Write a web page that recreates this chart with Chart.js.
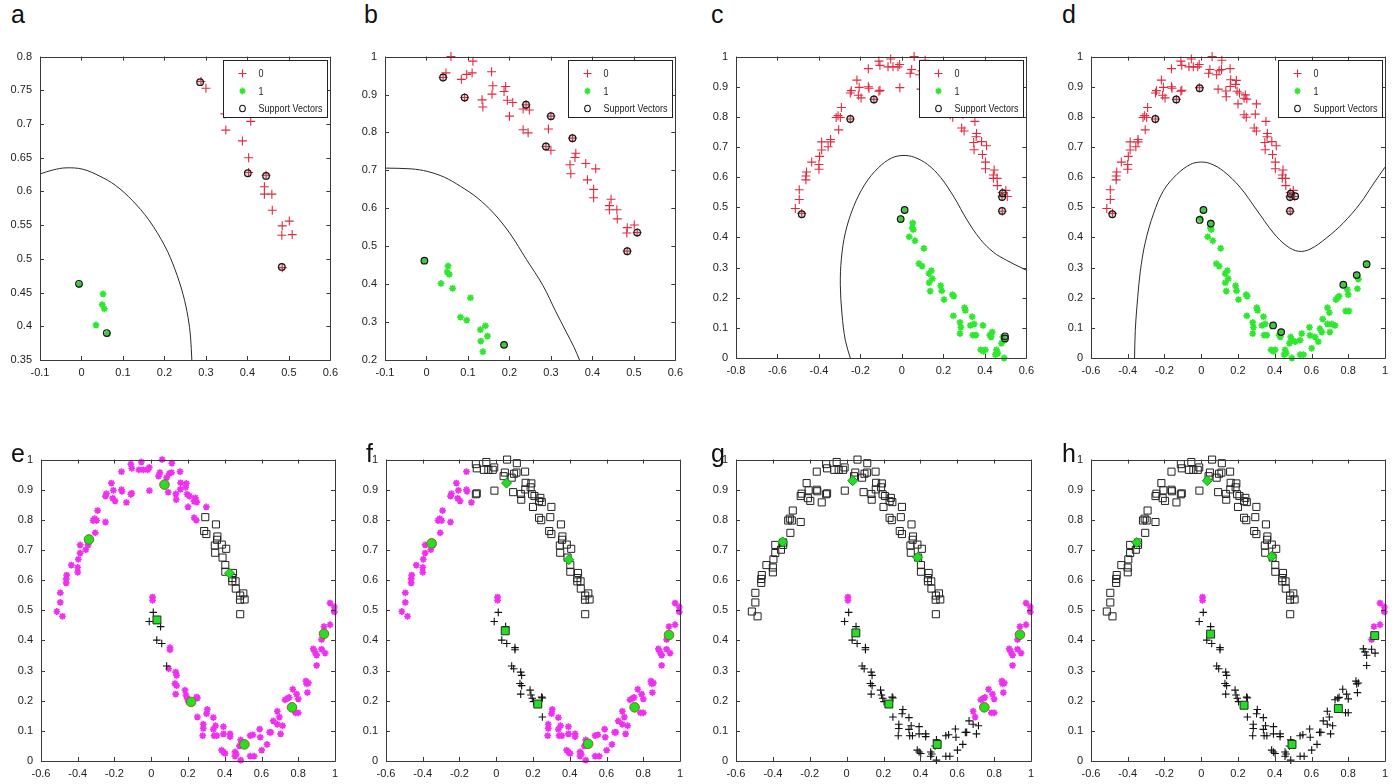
<!DOCTYPE html>
<html>
<head>
<meta charset="utf-8">
<title>Two moons: SVM boundaries and clustering</title>
<script src="https://cdn.jsdelivr.net/npm/chart.js@4.4.1/dist/chart.umd.min.js"></script>
<style>
  body { margin: 0; background: #fff; width: 1394px; height: 784px; overflow: hidden; position: relative; }
  canvas { position: absolute; }
  .tag { position: absolute; font: 25px "Liberation Sans", Arial, sans-serif; line-height: 1; color: #111; }
</style>
</head>
<body>
<script>
// ---- data ----------------------------------------------------------------

// upper moon (class 0 on top row, squares / magenta on bottom row)
const upperMoon = [
  [-0.514,0.496],[-0.495,0.526],[-0.495,0.558],[-0.483,0.48],[-0.463,0.591],[-0.463,0.604],[-0.46,0.617],
  [-0.435,0.65],[-0.4,0.626],[-0.4,0.642],[-0.397,0.669],[-0.387,0.69],[-0.387,0.717],[-0.356,0.701],
  [-0.344,0.717],[-0.344,0.725],[-0.305,0.757],[-0.317,0.798],[-0.308,0.804],[-0.292,0.831],[-0.297,0.798],
  [-0.249,0.793],[-0.249,0.879],[-0.244,0.887],[-0.217,0.922],[-0.206,0.898],[-0.197,0.863],[-0.21,0.872],
  [-0.162,0.9],[-0.159,0.895],[-0.135,0.858],[-0.162,0.96],[-0.111,0.885],[-0.106,0.888],[-0.111,0.985],
  [-0.106,0.971],[-0.067,0.966],[-0.054,0.992],[-0.043,0.966],[-0.019,0.966],[-0.011,0.974],[-0.01,0.897],
  [0.047,0.957],[0.04,0.945],[0.059,1.0],[0.084,0.94],[0.097,0.953],[0.11,0.957],[0.112,0.988],[0.092,0.892],
  [0.134,0.886],[0.136,0.867],[0.157,0.96],[0.16,0.923],[0.158,0.901],[0.187,0.908],[0.191,0.921],[0.195,0.885],
  [0.2,0.843],[0.208,0.879],[0.233,0.862],[0.24,0.873],[0.248,0.859],[0.233,0.807],[0.245,0.799],[0.3,0.843],
  [0.294,0.809],[0.288,0.763],[0.3,0.753],[0.352,0.785],[0.36,0.745],[0.358,0.734],[0.346,0.715],[0.348,0.691],
  [0.384,0.718],[0.388,0.675],[0.408,0.704],[0.403,0.65],[0.403,0.628],[0.445,0.624],[0.441,0.607],[0.441,0.596],
  [0.459,0.596],[0.46,0.572],[0.501,0.556],[0.484,0.549],[0.483,0.535],[0.508,0.536],[0.484,0.487]
];

// lower moon as used in the SVM runs (class 1)
const lowerMoonSvm = [
  [-0.005,0.462],[0.012,0.491],[0.052,0.448],[0.05,0.432],[0.055,0.426],[0.035,0.402],[0.063,0.389],
  [0.106,0.364],[0.082,0.313],[0.097,0.305],[0.13,0.28],[0.142,0.29],[0.147,0.263],[0.131,0.25],[0.136,0.222],
  [0.187,0.24],[0.192,0.223],[0.203,0.194],[0.244,0.21],[0.25,0.205],[0.248,0.14],[0.28,0.118],[0.284,0.102],
  [0.28,0.081],[0.302,0.167],[0.306,0.158],[0.339,0.137],[0.33,0.108],[0.348,0.113],[0.342,0.076],[0.357,0.076],
  [0.391,0.108],[0.38,0.027],[0.393,0.022],[0.402,0.027],[0.424,0.076],[0.43,0.07],[0.435,0.086],[0.456,0.027],
  [0.462,0.016],[0.451,0.011],[0.487,0.07],[0.493,0.059],[0.48,0.049],[0.493,0.0],[0.511,0.054],[0.538,0.059],
  [0.547,0.081],[0.538,0.011],[0.556,0.011],[0.589,0.102],[0.592,0.075],[0.601,0.032],[0.619,0.07],[0.637,0.054],
  [0.646,0.097],[0.656,0.086],[0.661,0.129],[0.687,0.167],[0.697,0.151],[0.687,0.113],[0.71,0.113],[0.7,0.086],
  [0.728,0.108],[0.733,0.194],[0.743,0.2],[0.75,0.205],[0.773,0.243],[0.795,0.227],[0.8,0.21],[0.786,0.156],
  [0.804,0.156],[0.846,0.275],[0.855,0.262],[0.85,0.23],[0.9,0.311]
];

// lower moon as used in the clustering runs
const lowerMoonTip = [[0.007,0.544],[0.007,0.533]];
const lowerMoon = [
  [-0.011,0.463],[0.011,0.493],[0.051,0.446],[0.03,0.401],[0.057,0.39],[0.102,0.376],[0.102,0.369],[0.084,0.315],
  [0.095,0.306],[0.133,0.295],[0.138,0.284],[0.129,0.257],[0.138,0.25],[0.133,0.222],[0.184,0.235],[0.189,0.219],
  [0.196,0.208],[0.203,0.197],[0.247,0.212],[0.251,0.209],[0.251,0.146],[0.283,0.122],[0.283,0.108],[0.28,0.084],
  [0.305,0.171],[0.301,0.157],[0.338,0.144],[0.35,0.117],[0.338,0.105],[0.342,0.084],[0.357,0.084],[0.393,0.114],
  [0.393,0.09],[0.383,0.036],[0.393,0.03],[0.402,0.025],[0.429,0.09],[0.429,0.081],[0.456,0.03],[0.462,0.023],
  [0.456,0.016],[0.487,0.003],[0.487,0.07],[0.493,0.06],[0.48,0.05],[0.538,0.084],[0.553,0.087],[0.538,0.016],
  [0.56,0.016],[0.59,0.106],[0.593,0.079],[0.601,0.036],[0.63,0.055],[0.644,0.095],[0.651,0.095],[0.664,0.133],
  [0.686,0.165],[0.697,0.146],[0.686,0.122],[0.715,0.117],[0.704,0.09],[0.728,0.203],[0.743,0.208],[0.75,0.211],
  [0.77,0.238],[0.791,0.222],[0.8,0.206],[0.785,0.16],[0.8,0.16],[0.842,0.265],[0.846,0.256],[0.855,0.259],
  [0.85,0.227],[0.882,0.372],[0.891,0.362],[0.9,0.351],[0.9,0.317],[0.927,0.371],[0.946,0.358],[0.927,0.403],
  [0.94,0.446],[0.973,0.452],[0.973,0.524],[0.996,0.511],[0.996,0.495]
];

// which part of each moon a panel shows / assigns (panels a-d, e-h)
const redMinX = [0.28, 0.03, -1, -1];
const greenMaxX = [0.07, 0.19, 0.5, 1.1];
const greenMaxY = [0.47, 0.47, 1.1, 1.1];
const squareMinX = [0.28, -0.12, -1, -1];
const squareMaxY = [0.83, 1.1, 1.1, 1.1];
const magentaMinX = [0.09, 0.26, 0.68, 0.92];
const magentaMinY = [-1, -1, 0.14, 0.39];

// support vectors
const svA = [[0.286,0.762],[0.401,0.627],[0.445,0.623],[0.483,0.488],[-0.006,0.463],[0.061,0.39]];
const svB = [[0.04,0.945],[0.092,0.892],[0.24,0.873],[0.3,0.843],[0.288,0.763],[0.352,0.785],[0.508,0.536],
  [0.484,0.487],[-0.005,0.462],[0.187,0.24]];
const svC = [[-0.483,0.477],[-0.249,0.793],[-0.135,0.858],[0.483,0.534],[0.486,0.547],[0.483,0.488],
  [-0.006,0.461],[0.013,0.491],[0.497,0.072],[0.497,0.065]];
const svD = [[-0.484,0.477],[-0.25,0.793],[-0.136,0.858],[-0.009,0.895],[0.483,0.534],[0.487,0.545],[0.511,0.537],
  [0.483,0.488],[-0.009,0.458],[0.012,0.491],[0.052,0.446],[0.391,0.108],[0.435,0.086],[0.773,0.243],
  [0.846,0.275],[0.9,0.311]];

// decision boundaries
const boundA = [[-0.1,0.626],[-0.068,0.632],[-0.037,0.635],[0.003,0.633],[0.043,0.623],[0.082,0.609],[0.122,0.587],
  [0.162,0.558],[0.201,0.519],[0.225,0.485],[0.245,0.447],[0.257,0.413],[0.263,0.384],[0.266,0.35]];
const boundB = [[-0.1,0.706],[-0.037,0.704],[0.003,0.697],[0.043,0.682],[0.082,0.658],[0.122,0.628],[0.162,0.587],
  [0.201,0.534],[0.241,0.465],[0.281,0.396],[0.312,0.327],[0.336,0.276],[0.356,0.233],[0.369,0.2]];
const boundC = [[-0.249,0],[-0.273,0.059],[-0.289,0.146],[-0.297,0.243],[-0.292,0.329],[-0.273,0.415],[-0.233,0.502],
  [-0.178,0.577],[-0.114,0.631],[-0.051,0.663],[0.005,0.672],[0.06,0.666],[0.124,0.642],[0.187,0.599],[0.251,0.534],
  [0.314,0.458],[0.378,0.394],[0.441,0.351],[0.505,0.324],[0.568,0.302],[0.6,0.291]];
const boundD = [[-0.363,0],[-0.359,0.092],[-0.346,0.2],[-0.332,0.286],[-0.305,0.383],[-0.259,0.48],[-0.205,0.556],
  [-0.133,0.609],[-0.06,0.642],[-0.006,0.65],[0.049,0.645],[0.121,0.62],[0.212,0.566],[0.302,0.491],[0.393,0.415],
  [0.465,0.372],[0.529,0.354],[0.592,0.361],[0.683,0.399],[0.773,0.448],[0.864,0.512],[0.936,0.577],[1.0,0.633]];

// cluster representatives (e-h)
const circlesE = [[-0.339,0.735],[0.072,0.917],[0.217,0.196],[0.507,0.055],[0.766,0.178],[0.94,0.422]];
const diamondsE = [[0.426,0.623]];
const squaresE = [[0.031,0.468]];
const circlesF = [[-0.352,0.722],[0.5,0.057],[0.753,0.178],[0.94,0.418]];
const diamondsF = [[0.056,0.922],[0.395,0.668]];
const squaresF = [[0.049,0.432],[0.226,0.189]];
const circlesG = [[0.747,0.178],[0.94,0.419]];
const diamondsG = [[-0.347,0.727],[0.033,0.93],[0.385,0.676]];
const squaresG = [[0.05,0.425],[0.229,0.189],[0.491,0.055]];
const circlesH = [];
const diamondsH = [[-0.351,0.725],[0.033,0.93],[0.383,0.679]];
const squaresH = [[0.051,0.421],[0.233,0.185],[0.494,0.055],[0.746,0.174],[0.944,0.416]];

// tick labels
const ticksAx = [-0.1, 0, 0.1, 0.2, 0.3, 0.4, 0.5, 0.6];
const ticksAy = [0.35, 0.4, 0.45, 0.5, 0.55, 0.6, 0.65, 0.7, 0.75, 0.8];
const ticksBy = [0.2, 0.3, 0.4, 0.5, 0.6, 0.7, 0.8, 0.9, 1];
const ticksCx = [-0.8, -0.6, -0.4, -0.2, 0, 0.2, 0.4, 0.6];
const ticksWideX = [-0.6, -0.4, -0.2, 0, 0.2, 0.4, 0.6, 0.8, 1];
const ticksUnitY = [0, 0.1, 0.2, 0.3, 0.4, 0.5, 0.6, 0.7, 0.8, 0.9, 1];

// ---- drawing -------------------------------------------------------------

const narrow = '"Liberation Sans Narrow", "Liberation Sans", Arial, sans-serif';
const pts = arr => arr.map(p => ({ x: p[0], y: p[1] }));

const styles = {
  red:     { pointStyle: 'cross', pointRadius: 4.5, borderColor: '#e4283e', backgroundColor: '#e4283e', borderWidth: 1.1 },
  green:   { pointStyle: 'star', pointRadius: 3.4, borderColor: '#2ee82e', backgroundColor: '#2ee82e', borderWidth: 1.7 },
  sv:      { pointStyle: 'circle', pointRadius: 3.3, borderColor: '#151515', backgroundColor: 'rgba(110,110,110,0.25)', borderWidth: 1.2 },
  magenta: { pointStyle: 'star', pointRadius: 3.4, borderColor: '#f030f0', backgroundColor: '#f030f0', borderWidth: 1.7 },
  square:  { pointStyle: 'rect', pointRadius: 5, borderColor: '#222', backgroundColor: 'rgba(255,255,255,0)', borderWidth: 1 },
  plus:    { pointStyle: 'cross', pointRadius: 3.8, borderColor: '#111', backgroundColor: '#111', borderWidth: 1.1 },
  gCircle: { pointStyle: 'circle', pointRadius: 4.8, borderColor: '#94601c', backgroundColor: '#22e022', borderWidth: 1 },
  gSquare: { pointStyle: 'rect', pointRadius: 5.6, borderColor: '#2a2a2a', backgroundColor: '#22e022', borderWidth: 1 },
  gDiamond:{ pointStyle: 'rectRot', pointRadius: 5, borderColor: '#149a14', backgroundColor: '#22dd22', borderWidth: 1 }
};

function scatterSet(arr, style) {
  return Object.assign({ data: pts(arr), clip: 6, pointHoverRadius: 0 }, style);
}
function curveSet(arr) {
  return { data: pts(arr), showLine: true, pointRadius: 0, borderColor: '#2a2a2a', borderWidth: 1, tension: 0.35 };
}

// box with inward tick marks on all four sides
const framePlugin = {
  id: 'frame',
  afterDatasetsDraw(chart) {
    const { ctx, chartArea: a, scales } = chart;
    ctx.save();
    ctx.strokeStyle = '#3a3a3a';
    ctx.lineWidth = 1;
    ctx.beginPath();
    ctx.rect(Math.round(a.left) + 0.5, Math.round(a.top) + 0.5, Math.round(a.right - a.left), Math.round(a.bottom - a.top));
    scales.x.ticks.forEach(t => {
      const px = Math.round(scales.x.getPixelForValue(t.value)) + 0.5;
      ctx.moveTo(px, a.bottom); ctx.lineTo(px, a.bottom - 4);
      ctx.moveTo(px, a.top); ctx.lineTo(px, a.top + 4);
    });
    scales.y.ticks.forEach(t => {
      const py = Math.round(scales.y.getPixelForValue(t.value)) + 0.5;
      ctx.moveTo(a.left, py); ctx.lineTo(a.left + 4, py);
      ctx.moveTo(a.right, py); ctx.lineTo(a.right - 4, py);
    });
    ctx.stroke();
    ctx.restore();
  }
};

// legend box in the upper right corner of the top-row panels
const legendItems = [
  { label: '0', mark: 'cross', color: '#e4283e' },
  { label: '1', mark: 'star', color: '#2ee82e' },
  { label: 'Support Vectors', mark: 'circle', color: '#151515' }
];
const svLegend = {
  id: 'svLegend',
  afterDraw(chart) {
    const { ctx, chartArea: a } = chart;
    const w = 104, h = 57;
    const x0 = Math.round(a.right - 3 - w) + 0.5, y0 = Math.round(a.top + 3) + 0.5;
    ctx.save();
    ctx.fillStyle = '#fff';
    ctx.fillRect(x0, y0, w, h);
    ctx.strokeStyle = '#222';
    ctx.lineWidth = 1;
    ctx.strokeRect(x0, y0, w, h);
    ctx.font = '11px ' + narrow;
    ctx.textBaseline = 'middle';
    // squeeze the labels so the longest one fits the box
    const squeeze = Math.min(1, 64 / ctx.measureText('Support Vectors').width);
    legendItems.forEach((it, i) => {
      const cy = y0 + 13 + i * 17.5, cx = x0 + 19;
      ctx.strokeStyle = it.color;
      ctx.beginPath();
      if (it.mark === 'cross') {
        ctx.lineWidth = 1.1;
        ctx.moveTo(cx - 4, cy); ctx.lineTo(cx + 4, cy);
        ctx.moveTo(cx, cy - 4); ctx.lineTo(cx, cy + 4);
      } else if (it.mark === 'star') {
        ctx.lineWidth = 1.7;
        ctx.moveTo(cx - 3, cy); ctx.lineTo(cx + 3, cy);
        ctx.moveTo(cx, cy - 3.5); ctx.lineTo(cx, cy + 3.5);
        ctx.moveTo(cx - 2.2, cy - 2.2); ctx.lineTo(cx + 2.2, cy + 2.2);
        ctx.moveTo(cx - 2.2, cy + 2.2); ctx.lineTo(cx + 2.2, cy - 2.2);
      } else {
        ctx.lineWidth = 1.1;
        ctx.ellipse(cx, cy, 2.8, 3.3, 0, 0, Math.PI * 2);
      }
      ctx.stroke();
      ctx.save();
      ctx.translate(x0 + 35, cy + 0.5);
      ctx.scale(squeeze, 1);
      ctx.fillStyle = '#222';
      ctx.fillText(it.label, 0, 0);
      ctx.restore();
    });
    ctx.restore();
  }
};

function makePanel(box, xt, yt, datasets, withLegend) {
  const [L, T, R, B] = box;
  const cv = document.createElement('canvas');
  cv.width = R - L + 55;
  cv.height = B - T + 33;
  cv.style.left = (L - 45) + 'px';
  cv.style.top = (T - 8) + 'px';
  document.body.appendChild(cv);
  const tickOpts = { autoSkip: false, maxRotation: 0, color: '#222', font: { family: narrow, size: 11 },
    callback: v => String(v) };
  new Chart(cv, {
    type: 'scatter',
    data: { datasets },
    options: {
      responsive: false,
      animation: false,
      events: [],
      layout: { padding: { top: 8, right: 10, left: 0, bottom: 0 }, autoPadding: false },
      plugins: { legend: { display: false }, tooltip: { enabled: false } },
      scales: {
        x: {
          type: 'linear', min: xt[0], max: xt[xt.length - 1],
          grid: { display: false, drawTicks: false }, border: { display: false },
          ticks: Object.assign({ padding: 6 }, tickOpts),
          afterBuildTicks: s => { s.ticks = xt.map(v => ({ value: v })); },
          afterFit: s => { s.height = 25; }
        },
        y: {
          type: 'linear', min: yt[0], max: yt[yt.length - 1],
          grid: { display: false, drawTicks: false }, border: { display: false },
          ticks: Object.assign({ padding: 8 }, tickOpts),
          afterBuildTicks: s => { s.ticks = yt.map(v => ({ value: v })); },
          afterFit: s => { s.width = 45; }
        }
      }
    },
    plugins: withLegend ? [framePlugin, svLegend] : [framePlugin]
  });
}

function tag(letter, x, y) {
  const d = document.createElement('div');
  d.className = 'tag';
  d.textContent = letter;
  d.style.left = x + 'px';
  d.style.top = y + 'px';
  document.body.appendChild(d);
}

// top row: SVM with support vectors and decision boundary
const topPanels = [
  { box: [40, 50, 334, 360], xt: ticksAx, yt: ticksAy, sv: svA, bound: boundA, tag: ['a', 11, 2] },
  { box: [385, 50, 679, 360], xt: ticksAx, yt: ticksBy, sv: svB, bound: boundB, tag: ['b', 364, 2] },
  { box: [736, 50, 1030, 358], xt: ticksCx, yt: ticksUnitY, sv: svC, bound: boundC, tag: ['c', 711, 2] },
  { box: [1091, 50, 1385, 358], xt: ticksWideX, yt: ticksUnitY, sv: svD, bound: boundD, tag: ['d', 1062, 2] }
];
topPanels.forEach((p, i) => {
  const red = upperMoon.filter(q => q[0] >= redMinX[i]);
  const green = lowerMoonSvm.filter(q => q[0] <= greenMaxX[i] && q[1] <= greenMaxY[i]);
  makePanel(p.box, p.xt, p.yt, [
    scatterSet(p.sv, styles.sv),
    scatterSet(red, styles.red),
    scatterSet(green, styles.green),
    curveSet(p.bound)
  ], true);
  tag(...p.tag);
});

// bottom row: cluster assignments with representatives
const bottomPanels = [
  { box: [41, 453, 335, 761], circles: circlesE, diamonds: diamondsE, squares: squaresE, tag: ['e', 11, 441] },
  { box: [386, 453, 680, 761], circles: circlesF, diamonds: diamondsF, squares: squaresF, tag: ['f', 366, 441] },
  { box: [736, 453, 1031, 761], circles: circlesG, diamonds: diamondsG, squares: squaresG, tag: ['g', 711, 441] },
  { box: [1091, 453, 1385, 761], circles: circlesH, diamonds: diamondsH, squares: squaresH, tag: ['h', 1062, 441] }
];
bottomPanels.forEach((p, i) => {
  const isSquare = q => q[0] >= squareMinX[i] && q[1] <= squareMaxY[i];
  const isMagenta = q => q[0] > magentaMinX[i] && q[1] > magentaMinY[i];
  const magenta = upperMoon.filter(q => !isSquare(q))
    .concat(lowerMoonTip, lowerMoon.filter(isMagenta));
  makePanel(p.box, ticksWideX, ticksUnitY, [
    scatterSet(p.circles, styles.gCircle),
    scatterSet(p.diamonds, styles.gDiamond),
    scatterSet(p.squares, styles.gSquare),
    scatterSet(upperMoon.filter(isSquare), styles.square),
    scatterSet(lowerMoon.filter(q => !isMagenta(q)), styles.plus),
    scatterSet(magenta, styles.magenta)
  ], false);
  tag(...p.tag);
});
</script>
</body>
</html>
